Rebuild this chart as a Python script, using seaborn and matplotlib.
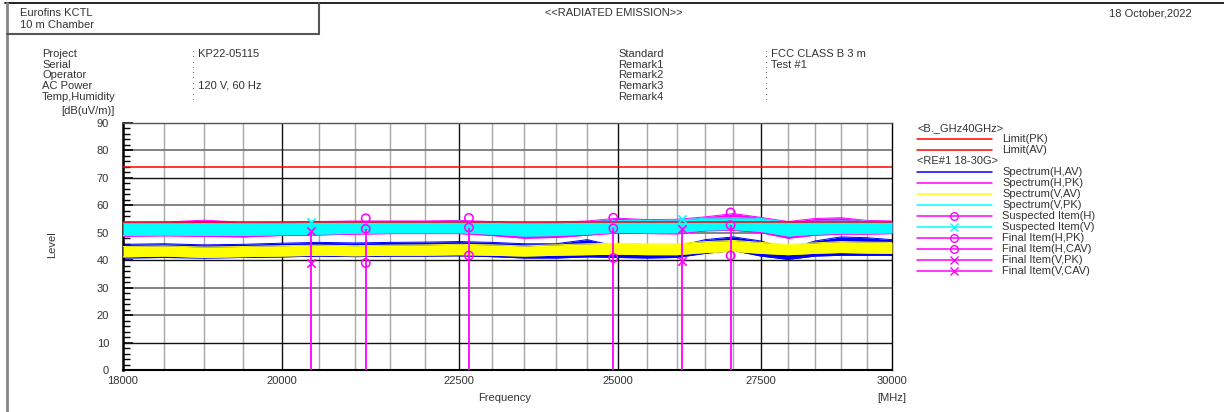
import matplotlib
matplotlib.use("Agg")
import matplotlib.pyplot as plt
from matplotlib.lines import Line2D
from matplotlib.ticker import FixedLocator, NullLocator
import pandas as pd
import seaborn as sns

# ---------------- data ----------------
freq_knots = [18000, 18500, 19000, 19500, 20000, 20500, 21000, 21500, 22000,
              22500, 23000, 23500, 24000, 24500, 25000, 25500, 26000, 26500,
              27000, 27500, 28000, 28500, 29000, 29500, 30000]

# Spectrum(V,PK)  (cyan) band envelopes
vpk_low = [49.0, 49.2, 49.0, 49.0, 49.3, 49.5, 49.8, 50.0, 50.0, 50.0, 49.5, 48.8,
           49.0, 49.5, 50.2, 50.0, 50.0, 51.0, 51.2, 50.5, 48.8, 49.5, 49.8, 49.8, 50.0]
vpk_high = [53.5, 53.6, 53.4, 53.5, 53.6, 53.8, 54.0, 54.0, 54.0, 54.2, 53.8, 53.5,
            53.6, 54.0, 54.5, 54.5, 54.6, 55.3, 55.5, 55.2, 53.8, 54.2, 54.3, 54.2, 54.0]
# Spectrum(H,PK)  (magenta)
hpk_low = [48.7, 48.9, 48.7, 48.5, 49.0, 49.2, 49.5, 49.7, 49.7, 49.7, 49.0, 48.0,
           48.3, 49.1, 49.9, 49.7, 49.6, 50.7, 50.9, 50.0, 48.0, 49.1, 49.5, 49.5, 49.7]
hpk_high = [53.8, 53.9, 54.6, 53.8, 53.9, 54.1, 54.3, 54.3, 54.3, 54.5, 54.1, 53.8,
            53.9, 54.3, 55.3, 54.8, 54.9, 55.8, 57.0, 55.6, 54.1, 55.2, 55.5, 54.5, 54.3]
# Spectrum(H,AV)  (blue)
hav_low = [40.8, 41.0, 40.8, 41.0, 41.2, 41.5, 41.3, 41.5, 41.5, 41.6, 41.3, 40.8,
           40.8, 41.2, 41.0, 40.8, 41.0, 42.5, 43.5, 41.5, 40.3, 41.5, 41.8, 41.8, 41.8]
hav_high = [45.8, 46.0, 45.6, 45.8, 46.2, 46.5, 46.3, 46.5, 46.6, 46.8, 46.5, 46.0,
            46.0, 47.5, 45.0, 44.5, 45.0, 47.5, 48.5, 47.0, 44.0, 47.0, 48.5, 48.2, 47.5]
# Spectrum(V,AV)  (yellow)
vav_low = [41.2, 41.5, 41.0, 41.3, 41.5, 41.8, 41.6, 41.8, 41.8, 42.0, 41.8, 41.5,
           41.8, 42.0, 42.2, 42.0, 42.0, 42.8, 43.2, 42.5, 42.0, 42.5, 42.8, 42.6, 42.5]
vav_high = [45.0, 45.2, 44.8, 45.0, 45.3, 45.5, 45.3, 45.5, 45.6, 45.8, 45.6, 45.2,
            45.6, 46.0, 46.2, 46.0, 46.0, 46.8, 47.2, 46.5, 45.8, 46.3, 46.8, 46.6, 46.5]

limit_freq = [18000, 30000]
limit_pk = [74, 74]
limit_av = [54, 54]

h_freq = [21150, 22650, 24930, 26950]
h_suspected = [55.3, 55.4, 55.5, 57.4]
h_final_pk = [51.4, 51.9, 51.6, 52.8]
h_final_cav = [39.0, 41.7, 40.8, 41.7]

v_freq = [20400, 26100]
v_suspected = [53.8, 55.2]
v_final_pk = [50.5, 51.3]
v_final_cav = [39.0, 39.8]

x_tick_values = [18000, 20000, 22500, 25000, 27500, 30000]
x_tick_labels = ["18000", "20000", "22500", "25000", "27500", "30000"]
grid_x_major = [20000, 22500, 25000, 27500]
grid_x_minor = [18500, 19000, 19500, 20500, 21000, 21500, 22000, 23000, 23500,
                24000, 24500, 25500, 26000, 26500, 27000, 28000, 28500, 29000, 29500]
grid_y_dark = [10, 40, 70]
grid_y_gray = [20, 30, 50, 60, 80]

# ---------------- style ----------------
sns.set_style("white")
plt.rcParams["font.family"] = ["Liberation Sans", "DejaVu Sans"]
TXT = "#333333"
FS = 8

W, H = 1224, 412
fig = plt.figure(figsize=(W / 100, H / 100), dpi=100)


def fx(x):
    return x / W


def fy(y):
    return 1 - y / H


ax = fig.add_axes([fx(123), fy(370), fx(892) - fx(123), fy(123) - fy(370)])

df = pd.DataFrame({
    "freq": freq_knots,
    "hav_low": hav_low, "hav_high": hav_high,
    "hpk_low": hpk_low, "hpk_high": hpk_high,
    "vav_low": vav_low, "vav_high": vav_high,
    "vpk_low": vpk_low, "vpk_high": vpk_high,
})

# grid
for gx in grid_x_minor:
    ax.axvline(gx, color="#a8a8a8", lw=1.0, zorder=0.5)
for gx in grid_x_major:
    ax.axvline(gx, color="#111111", lw=1.0, zorder=0.6)
for gy in grid_y_gray:
    ax.axhline(gy, color="#6e6e6e", lw=1.2, zorder=0.5)
for gy in grid_y_dark:
    ax.axhline(gy, color="#111111", lw=1.0, zorder=0.6)

# spectra bands
bands = [("hav", "#0000ff"), ("hpk", "#ff00ff"), ("vav", "#ffff00"), ("vpk", "#00ffff")]
for i, (key, col) in enumerate(bands):
    ax.fill_between(df["freq"], df[key + "_low"], df[key + "_high"],
                    color=col, lw=0, zorder=2 + i)
    sns.lineplot(x=df["freq"], y=df[key + "_low"], ax=ax, color=col, lw=0.7,
                 zorder=2 + i)
    sns.lineplot(x=df["freq"], y=df[key + "_high"], ax=ax, color=col, lw=0.7,
                 zorder=2 + i)

# limits
lim = pd.DataFrame({"freq": limit_freq, "pk": limit_pk, "av": limit_av})
sns.lineplot(data=lim, x="freq", y="pk", ax=ax, color="#ff0000", lw=1.1, zorder=7)
sns.lineplot(data=lim, x="freq", y="av", ax=ax, color="#ff0000", lw=1.1, zorder=7)

# stems
ax.vlines(h_freq, 0, h_final_pk, color="#ff00ff", lw=1.3, zorder=8)
ax.vlines(v_freq, 0, v_final_pk, color="#ff00ff", lw=1.3, zorder=8)

# markers
mk = dict(ax=ax, zorder=9, legend=False)
sns.scatterplot(x=h_freq, y=h_suspected, marker="o", s=36, facecolor="none",
                edgecolor="#ff00ff", linewidth=1.1, **mk)
sns.scatterplot(x=h_freq, y=h_final_pk, marker="o", s=36, facecolor="none",
                edgecolor="#ff00ff", linewidth=1.1, **mk)
sns.scatterplot(x=h_freq, y=h_final_cav, marker="o", s=36, facecolor="none",
                edgecolor="#ff00ff", linewidth=1.1, **mk)
sns.scatterplot(x=v_freq, y=v_suspected, marker="x", s=36, color="#00ffff",
                linewidth=1.2, **mk)
sns.scatterplot(x=v_freq, y=v_final_pk, marker="x", s=36, color="#ff00ff",
                linewidth=1.2, **mk)
sns.scatterplot(x=v_freq, y=v_final_cav, marker="x", s=36, color="#ff00ff",
                linewidth=1.2, **mk)

# axes
ax.set_xscale("log")
ax.set_xlim(18000, 30000)
ax.set_ylim(0, 90)
ax.xaxis.set_major_locator(FixedLocator(x_tick_values))
ax.set_xticklabels(x_tick_labels)
ax.xaxis.set_minor_locator(NullLocator())
ax.set_yticks(range(0, 91, 10))
ax.yaxis.set_minor_locator(FixedLocator(range(0, 91, 2)))
ax.tick_params(axis="x", which="both", length=0, pad=4, labelsize=FS, colors=TXT)
ax.tick_params(axis="y", which="major", direction="in", length=7, width=1.2,
               color="#000000", labelcolor=TXT, labelsize=FS, pad=10, left=True)
ax.tick_params(axis="y", which="minor", direction="in", length=5, width=1.0,
               color="#000000", left=True)
ax.set_xlabel("")
ax.set_ylabel("")
for side in ["left", "bottom", "right", "top"]:
    ax.spines[side].set_visible(True)
    ax.spines[side].set_color("#000000")
    ax.spines[side].set_linewidth(1.0)
ax.spines["left"].set_linewidth(1.8)
ax.spines["bottom"].set_linewidth(1.5)
ax.spines["top"].set_color("#555555")

# ---------------- frame & header ----------------
fig.add_artist(Line2D([fx(5), 1.0], [fy(3), fy(3)], color="#000000", lw=1.2,
                      transform=fig.transFigure))
fig.add_artist(Line2D([fx(7), fx(7)], [fy(3), 0.0], color="#888888", lw=2.0,
                      transform=fig.transFigure))
fig.add_artist(Line2D([fx(7), fx(319)], [fy(33.5), fy(33.5)], color="#555555",
                      lw=1.5, transform=fig.transFigure))
fig.add_artist(Line2D([fx(319), fx(319)], [fy(3), fy(33.5)], color="#555555",
                      lw=1.5, transform=fig.transFigure))


def t(x, y, s, ha="left", **kw):
    fig.text(fx(x), fy(y), s, ha=ha, va="center", fontsize=FS, color=TXT, **kw)


t(20, 13, "Eurofins KCTL")
t(20, 25, "10 m Chamber")
t(614, 13, "<<RADIATED EMISSION>>", ha="center")
t(1192, 13, "18 October,2022", ha="right")

left_labels = ["Project", "Serial", "Operator", "AC Power", "Temp,Humidity"]
left_values = [": KP22-05115", ":", ":", ": 120 V, 60 Hz", ":"]
right_labels = ["Standard", "Remark1", "Remark2", "Remark3", "Remark4"]
right_values = [": FCC CLASS B 3 m", ": Test #1", ":", ":", ":"]
rows_y = [54, 64.5, 75, 86, 96.5]
for yy, a, b, c, d in zip(rows_y, left_labels, left_values, right_labels, right_values):
    t(42, yy, a)
    t(192, yy, b)
    t(618, yy, c)
    t(765, yy, d)

t(88, 111, "[dB(uV/m)]", ha="center")
fig.text(fx(52), fy(245), "Level", rotation=90, ha="center", va="center",
         fontsize=FS, color=TXT)
t(505, 398, "Frequency", ha="center")
t(892, 398, "[MHz]", ha="center")

# ---------------- legend ----------------
legend_rows = [
    ("header", "<B._GHz40GHz>", None, None),
    ("line", "Limit(PK)", "#ff0000", None),
    ("line", "Limit(AV)", "#ff0000", None),
    ("header", "<RE#1 18-30G>", None, None),
    ("line", "Spectrum(H,AV)", "#0000ff", None),
    ("line", "Spectrum(H,PK)", "#ff00ff", None),
    ("line", "Spectrum(V,AV)", "#ffff00", None),
    ("line", "Spectrum(V,PK)", "#00ffff", None),
    ("line", "Suspected Item(H)", "#ff00ff", "o"),
    ("line", "Suspected Item(V)", "#00ffff", "x"),
    ("line", "Final Item(H,PK)", "#ff00ff", "o"),
    ("line", "Final Item(H,CAV)", "#ff00ff", "o"),
    ("line", "Final Item(V,PK)", "#ff00ff", "x"),
    ("line", "Final Item(V,CAV)", "#ff00ff", "x"),
]
y0 = 128.3
for i, (kind, label, col, marker) in enumerate(legend_rows):
    yy = y0 + i * 11.0
    if kind == "header":
        t(917, yy, label)
    else:
        ly = yy - 0.5
        fig.add_artist(Line2D([fx(917), fx(992)], [fy(ly), fy(ly)], color=col,
                              lw=1.1, transform=fig.transFigure))
        if marker is not None:
            fig.add_artist(Line2D([fx(954)], [fy(ly)], color=col, marker=marker,
                                  markersize=5.5, markerfacecolor="none",
                                  markeredgewidth=1.0, lw=0,
                                  transform=fig.transFigure))
        t(1002, yy, label)

fig.savefig("out.png", dpi=100)
